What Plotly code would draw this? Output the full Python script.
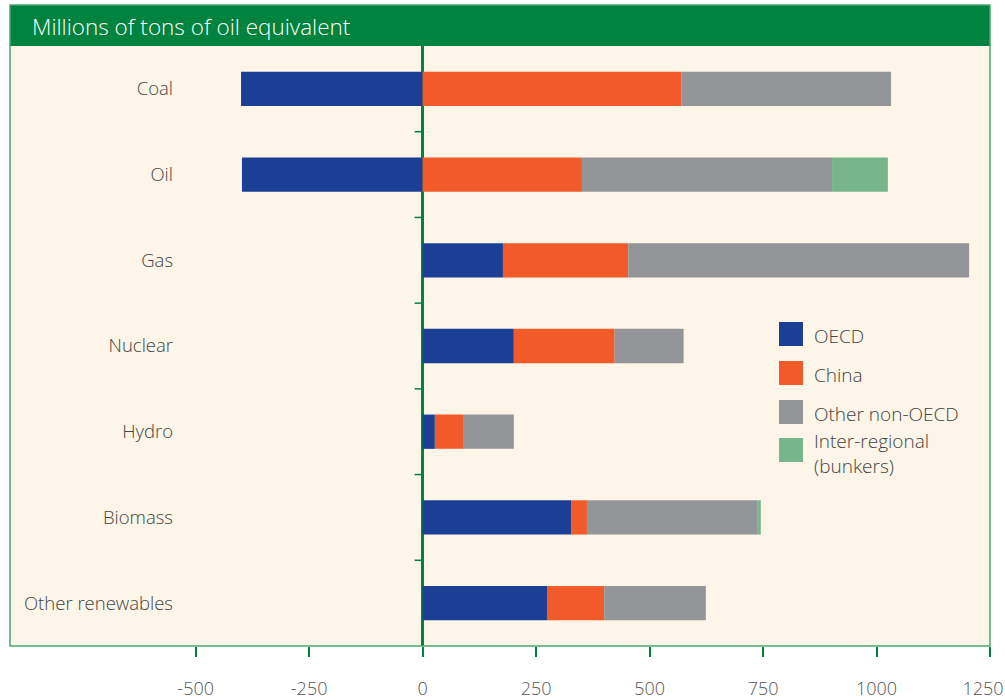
import plotly.graph_objects as go

# ---- data ----
categories = ["Coal", "Oil", "Gas", "Nuclear", "Hydro", "Biomass", "Other renewables"]
oecd = [-400, -398, 177, 201, 27, 327, 274]
china = [570, 351, 276, 222, 62, 35, 126]
other_non_oecd = [462, 551, 751, 152, 112, 375, 224]
bunkers = [0, 123, 0, 0, 0, 8, 0]

series_names = ["OECD", "China", "Other non-OECD", "Inter-regional<br>(bunkers)"]
series_values = [oecd, china, other_non_oecd, bunkers]
series_colors = ["#1B3F95", "#F15A29", "#949598", "#77B58A"]

x_ticks = [-500, -250, 0, 250, 500, 750, 1000, 1250]
title_text = "Millions of tons of oil equivalent"

# ---- layout geometry (pixels) ----
W, H = 1005, 700
L, R, T, B = 10, 990, 46, 646  # plot area edges
HEADER_TOP = 5
FONT = "Open Sans"
TXT = "#444444"
GREEN_DARK = "#00843D"
GREEN_FRAME = "#45A86E"


def px_x(px):
    return (px - L) / (R - L)


def px_y(py):
    return (B - py) / (B - T)


fig = go.Figure()
for name, vals, col in zip(series_names, series_values, series_colors):
    fig.add_trace(go.Bar(
        y=categories, x=vals, name=name.replace("<br>", " "), orientation="h",
        marker=dict(color=col, line=dict(width=0)), width=0.4,
        showlegend=False,
    ))

shapes = []
annotations = []

# header band
shapes.append(dict(type="rect", xref="paper", yref="paper",
                   x0=0, x1=1, y0=1, y1=px_y(HEADER_TOP),
                   fillcolor="#00833E", line=dict(color="#00833E", width=0),
                   layer="above"))
# outer frame
shapes.append(dict(type="rect", xref="paper", yref="paper",
                   x0=0, x1=1, y0=0, y1=px_y(HEADER_TOP),
                   fillcolor="rgba(0,0,0,0)", line=dict(color=GREEN_FRAME, width=1.5),
                   layer="above"))
annotations.append(dict(text=title_text, xref="paper", yref="paper",
                        x=px_x(30), y=px_y((HEADER_TOP + T) / 2 + 1), xanchor="left",
                        yanchor="middle", showarrow=False,
                        font=dict(family=FONT, size=22.5, color="white", weight=300)))

# category boundary ticks on the zero line
for k in range(len(categories) - 1):
    shapes.append(dict(type="line", xref="x", yref="y", xsizemode="pixel", xanchor=0,
                       x0=-8, x1=0, y0=k + 0.5, y1=k + 0.5,
                       line=dict(color=GREEN_DARK, width=1.5), layer="above"))

# custom legend
leg_x0, sq = 779, 24
leg_y_tops = [322, 361, 400, 438]
for name, col, yt in zip(series_names, series_colors, leg_y_tops):
    shapes.append(dict(type="rect", xref="paper", yref="paper",
                       x0=px_x(leg_x0), x1=px_x(leg_x0 + sq),
                       y0=px_y(yt + sq), y1=px_y(yt),
                       fillcolor=col, line=dict(width=0)))
    two_line = "<br>" in name
    annotations.append(dict(text=name, xref="paper", yref="paper",
                            x=px_x(812), y=px_y(yt + (15 if two_line else 14)),
                            xanchor="left", yanchor="middle", align="left",
                            showarrow=False,
                            font=dict(family=FONT, size=19, color=TXT, weight=300)))

# tick labels; the last one is padded so it stays inside the page edge
tick_text = [str(v) for v in x_ticks]
tick_text[-1] = tick_text[-1] + "\u00a0\u00a0\u00a0"

fig.update_layout(
    width=W, height=H,
    margin=dict(l=L, r=W - R, t=T, b=H - B, pad=0, autoexpand=False),
    paper_bgcolor="white",
    plot_bgcolor="#FCF5E8",
    barmode="relative",
    bargap=0.6,
    shapes=shapes,
    annotations=annotations,
    font=dict(family=FONT, color=TXT),
    xaxis=dict(
        range=[-909, 1250], tickmode="array", tickvals=x_ticks,
        ticktext=tick_text,
        ticks="outside", ticklen=10, tickwidth=1.5, tickcolor=GREEN_DARK,
        ticklabelstandoff=16, ticklabeloverflow="allow",
        tickfont=dict(family=FONT, size=18, color="#555555", weight=300),
        showgrid=False, zeroline=True, zerolinecolor=GREEN_DARK, zerolinewidth=2.5,
        showline=False, fixedrange=True, automargin=False,
    ),
    yaxis=dict(
        type="category", categoryorder="array", categoryarray=categories,
        range=[len(categories) - 0.5, -0.5],
        anchor="free", position=px_x(173),
        showgrid=False, zeroline=False, showline=False, ticks="",
        tickfont=dict(family=FONT, size=18.5, color=TXT, weight=300),
        fixedrange=True, automargin=False,
    ),
)

fig.write_html("out.html", config={"displayModeBar": False},
               post_script="document.body.style.margin='0';")
